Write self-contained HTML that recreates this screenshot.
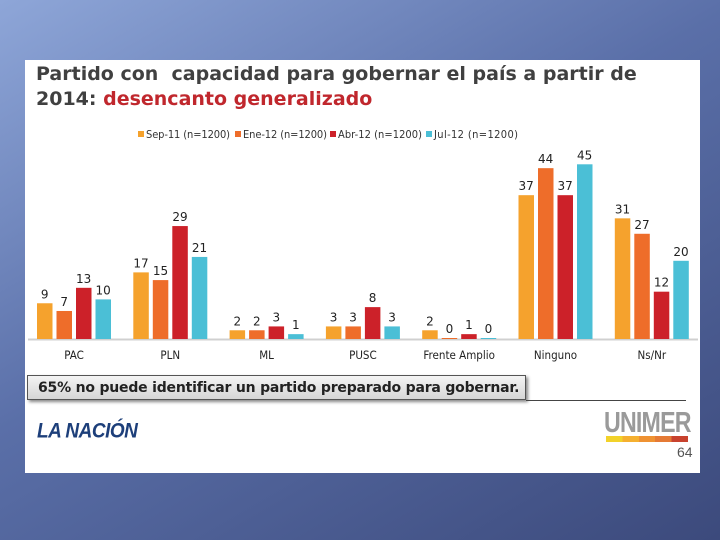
<!DOCTYPE html>
<html><head><meta charset="utf-8"><style>
body{margin:0;width:720px;height:540px;overflow:hidden;font-family:"Liberation Sans","DejaVu Sans",sans-serif;
background:linear-gradient(150deg,#8ea6d8 0%,#5a6fa8 45%,#3c4a7c 100%);position:relative}
#panel{position:absolute;left:25px;top:60px;width:675px;height:413px;background:#fff}
.t{position:absolute;font-weight:bold;font-size:19px;color:#404040;line-height:25px;font-family:"DejaVu Sans",sans-serif;white-space:nowrap}
</style></head><body>
<div id="panel"></div>
<div class="t" style="left:36px;top:62px">Partido con &nbsp;capacidad para gobernar el país a partir de<br>2014: <span style="color:#c0272d">desencanto generalizado</span></div>
<svg id="c" width="720" height="540" style="position:absolute;left:0;top:0"></svg>
<div style="position:absolute;left:27px;top:375px;width:499px;height:25px;border:1px solid #555;background:linear-gradient(#f4f4f4,#d6d6d6);box-shadow:2px 2px 3px #888;font-weight:bold;font-size:14px;line-height:24px;color:#222;padding-left:10px;box-sizing:border-box;font-family:'DejaVu Sans',sans-serif;letter-spacing:-0.2px;white-space:nowrap;overflow:hidden">65% no puede identificar un partido preparado para gobernar.</div>
<div style="position:absolute;left:526px;top:400px;width:160px;height:1px;background:#444"></div>
<div style="position:absolute;left:37px;top:421px;font-weight:bold;font-size:19px;color:#1d3f7a;letter-spacing:-0.5px;font-style:italic;transform:scaleY(1.1)">LA NACIÓN</div>
<div style="position:absolute;left:604px;top:407px;font-weight:bold;font-size:29px;color:#9a9a9a;transform:scaleX(0.8);transform-origin:left;letter-spacing:-1px">UNIMER</div>
<div style="position:absolute;left:606px;top:436px;width:82px;height:6px;background:linear-gradient(90deg,#f2d22a 0 20%,#f5b030 20% 40%,#ef9232 40% 60%,#e57a35 60% 80%,#c8422e 80%)"></div>
<div style="position:absolute;left:677px;top:444px;font-size:14px;color:#555">64</div>
<script>
const categories=["PAC","PLN","ML","PUSC","Frente Amplio","Ninguno","Ns/Nr"];
const seriesNames=["Sep-11 (n=1200)","Ene-12 (n=1200)","Abr-12 (n=1200)","Jul-12 (n=1200)"];
const sep11=[9,17,2,3,2,37,31];
const ene12=[7,15,2,3,0,44,27];
const abr12=[13,29,3,8,1,37,12];
const jul12=[10,21,1,3,0,45,20];
const series=[sep11,ene12,abr12,jul12];
const colors=["#f5a22d","#ee6d2a","#cc2129","#4bbfd6"];
const svg=document.getElementById('c');const NS="http://www.w3.org/2000/svg";
const base=339,scale=3.86;
const y=v=>base-v*scale;
const gx=i=>37+i*96.3;
function mk(t,a){const e=document.createElementNS(NS,t);for(const k in a)e.setAttribute(k,a[k]);svg.appendChild(e);return e;}
let l=mk('line',{x1:28,x2:698,y1:base+0.5,y2:base+0.5,stroke:'#d0d0d0','stroke-width':2});


categories.forEach((c,i)=>{
 series.forEach((s,j)=>{
  const x=gx(i)+j*19.5,v=s[i];
  const r=mk('rect',{x:x,y:y(v)-1,width:15.5,height:v*scale+1,fill:colors[j]});
  
  
  const t=mk('text',{x:x+7.7,y:y(v)-6,'text-anchor':'middle','font-size':12,fill:'#222','font-family':'DejaVu Sans, sans-serif'});t.textContent=v;
  
  
 });
 const t=mk('text',{x:gx(i)+37,y:359,'text-anchor':'middle','font-size':11.5,fill:'#222','font-family':'DejaVu Sans Condensed, DejaVu Sans, sans-serif'});t.textContent=c;
 
 
});
const lx=[138,235,330,426];
seriesNames.forEach((n,j)=>{
 const r=mk('rect',{x:lx[j],y:131,width:6,height:6,fill:colors[j]});
 
 
 const t=mk('text',{x:lx[j]+8,y:138,'font-size':11,fill:'#333','font-family':'DejaVu Sans Condensed, DejaVu Sans, sans-serif'});t.textContent=n;
 
 
 t.setAttribute('textLength','84');
});
</script>
</body></html>
